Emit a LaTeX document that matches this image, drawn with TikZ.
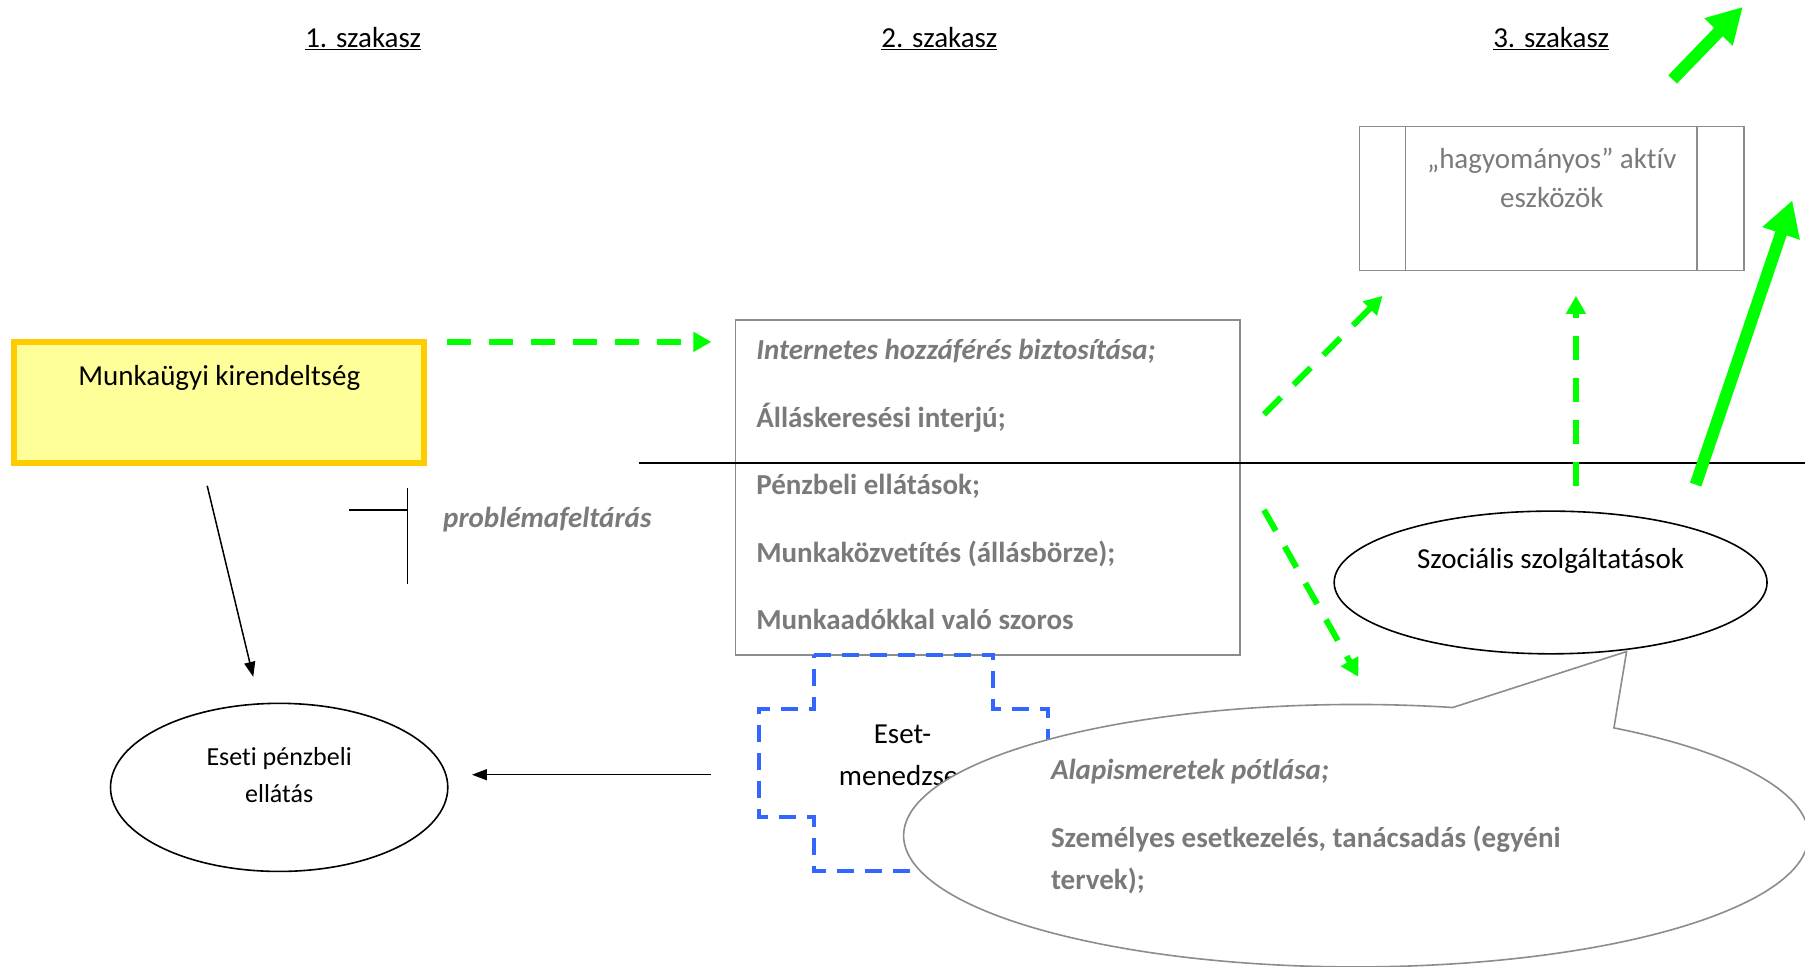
\documentclass[tikz,border=0pt]{standalone}
\usepackage{fontspec}
\setmainfont{Carlito}[RawFeature={-liga}]
\usetikzlibrary{arrows.meta,shapes.geometric,calc}
\definecolor{txtgray}{HTML}{7A7A7A}
\definecolor{boxgray}{HTML}{8C8C8C}
\definecolor{lgreen}{HTML}{00FF00}
\definecolor{cblue}{HTML}{3366FF}
\definecolor{orng}{HTML}{FFCC00}
\definecolor{lyel}{HTML}{FFFF99}
\begin{document}
\begin{tikzpicture}[x=1.1512pt,y=-1.1512pt,
  every node/.style={inner sep=0pt,outer sep=0pt},
  big/.style={font=\fontsize{29}{35}\selectfont},
  head/.style={big,anchor=base},
  gtxt/.style={font=\fontsize{29}{35}\selectfont\bfseries,text=txtgray,anchor=base west},
  gitxt/.style={font=\fontsize{29}{35}\selectfont\bfseries\itshape,text=txtgray,anchor=base west},
  gdash/.style={draw=lgreen,line width=6pt,dash pattern=on 24pt off 18pt,-{Triangle[length=18pt,width=19pt]}},
  gthick/.style={draw=lgreen,line width=12pt,-{Triangle[length=35pt,width=37pt]}},
  blk/.style={draw=black,line width=1.5pt,-{Triangle[length=15pt,width=11pt]}},
  graybox/.style={draw=boxgray,line width=1.6pt,fill=white,rectangle},
  oval/.style={draw=black,line width=1.6pt,ellipse,fill=white},
]
\clip (0,0) rectangle (1568,840);
\fill[white] (0,0) rectangle (1568,840);

% headings
\node[head] (h1) at (315.5,41) {\underline{1. szakasz}};
\node[head] (h2) at (816,41) {\underline{2. szakasz}};
\node[head] (h3) at (1347.5,41) {\underline{3. szakasz}};

% yellow box
\node[draw=orng,line width=6pt,fill=lyel,minimum width=409.8pt,minimum height=120.9pt] (mk) at (190.5,350) {};
\node[big,anchor=base] (mkt) at (190.5,335) {Munkaügyi kirendeltség};

% services box
\node[graybox,minimum width=504.2pt,minimum height=335pt] (svc) at (858,423.5) {};
\node[gitxt] (t1) at (657,312) {Internetes hozzáférés biztosítása;};
\node[gtxt] (t2) at (657,371) {Álláskeresési interjú;};
\node[gtxt] (t3) at (657,430) {Pénzbeli ellátások;};
\node[gtxt] (t4) at (657,489) {Munkaközvetítés (állásbörze);};
\node[gtxt] (t5) at (657,547) {Munkaadókkal való szoros};

% traditional tools box
\node[graybox,minimum width=384.5pt,minimum height=143.9pt] (hb) at (1348,172.5) {};
\draw[boxgray,line width=1.6pt] ($(hb.north west)+(40,0)$) -- ($(hb.south west)+(40,0)$);
\draw[boxgray,line width=1.6pt] ($(hb.north east)+(-41,0)$) -- ($(hb.south east)+(-41,0)$);
\node[big,text=txtgray,anchor=base] (hbt1) at (1348,146) {„hagyományos” aktív};
\node[big,text=txtgray,anchor=base] (hbt2) at (1348,180) {eszközök};

% social services ellipse
\node[oval,minimum width=432.9pt,minimum height=142.7pt] (szoc) at (1347,506) {};
\node[big,anchor=base] (szoct) at (1347,494) {Szociális szolgáltatások};

% occasional benefit ellipse
\node[oval,minimum width=337.3pt,minimum height=168.1pt] (eseti) at (242.5,684) {};
\node[font=\fontsize{26}{30}\selectfont,anchor=base] (es1) at (242.5,665) {Eseti pénzbeli};
\node[font=\fontsize{26}{30}\selectfont,anchor=base] (es2) at (242.5,697) {ellátás};

% case manager cross
\draw[cblue,line width=4pt,dash pattern=on 17pt off 11pt]
  (707,569) -- (863,569) -- (863,616) -- (910,616) -- (910,710) -- (863,710)
  -- (863,757) -- (707,757) -- (707,710) -- (659,710) -- (659,616) -- (707,616) -- cycle;
\node[big,anchor=base] (em1) at (784,646) {Eset-};
\node[big,anchor=base] (em2) at (785,682) {menedzser};

% callout
\coordinate (cc) at (1178,726);
\coordinate (ctip) at (1413,566);
\filldraw[fill=white,draw=boxgray,line width=1.6pt]
  (1402.0,632.3) arc[start angle=-55.25,end angle=282.34,x radius=393,y radius=114]
  -- (ctip) -- cycle;
\node[gitxt] (c1) at (913,677) {Alapismeretek pótlása;};
\node[gtxt] (c2) at (913,736) {Személyes esetkezelés, tanácsadás (egyéni};
\node[gtxt] (c3) at (913,773) {tervek);};

% horizontal divider
\coordinate (hl1) at (555,402);
\coordinate (hl2) at (1568,402);
\draw[line width=1.5pt] (hl1) -- (hl2);

% bracket and label
\coordinate (bk1) at (303,443);
\coordinate (bk2) at (354,443);
\coordinate (bk3) at (354,424);
\coordinate (bk4) at (354,507);
\draw[line width=1.5pt] (bk1) -- (bk2);
\draw[line width=1.5pt] (bk3) -- (bk4);
\node[gitxt] (prob) at (385,458) {problémafeltárás};

% black arrows
\coordinate (b1s) at (180,422);
\coordinate (b1e) at (220,588);
\draw[blk] (b1s) -- (b1e);
\coordinate (b2s) at (618,673);
\coordinate (b2e) at (410,673);
\draw[blk] (b2s) -- (b2e);

% green dashed arrows
\coordinate (ga1) at (388,297);
\coordinate (ga2) at (618,297);
\draw[gdash] (ga1) -- (ga2);
\coordinate (gb1) at (1098,360);
\coordinate (gb2) at (1201,257);
\draw[gdash] (gb1) -- (gb2);
\coordinate (gc1) at (1369,422);
\coordinate (gc2) at (1369,257);
\draw[gdash] (gc1) -- (gc2);
\coordinate (gd1) at (1098,443);
\coordinate (gd2) at (1180,588);
\draw[gdash] (gd1) -- (gd2);

% green thick arrows
\coordinate (ge1) at (1473,421);
\coordinate (ge2) at (1557,174);
\draw[gthick] (ge1) -- (ge2);
\coordinate (gf1) at (1453,69);
\coordinate (gf2) at (1514,6);
\draw[gthick] (gf1) -- (gf2);
\end{tikzpicture}
\end{document}
